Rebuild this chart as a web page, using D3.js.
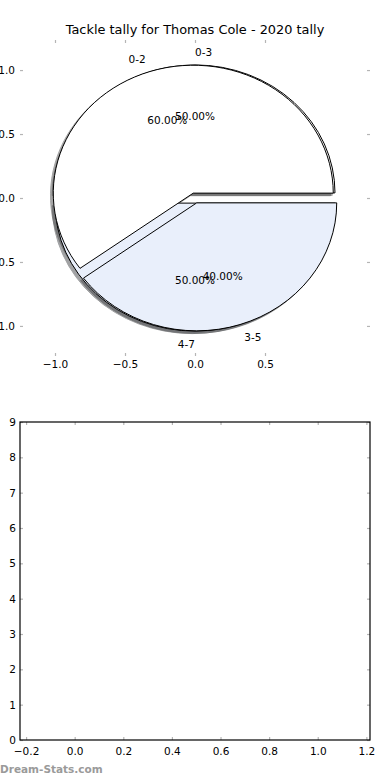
<!DOCTYPE html>
<html>
<head>
<meta charset="utf-8">
<script src="https://cdn.jsdelivr.net/npm/d3@7"></script>
<style>
  body { margin: 0; background: #fff; }
  text { font-family: "DejaVu Sans", sans-serif; }
</style>
</head>
<body>
<svg id="chart" width="390" height="780"></svg>
<script>
const title = 'Tackle tally for Thomas Cole - 2020 tally'
const pieALabels = ['0-3', '4-7']
const pieAValues = [1, 1]
const pieBLabels = ['0-2', '3-5']
const pieBValues = [3, 2]
const wedgeColors = ['#ffffff', '#e9effb']
const explode = 0.04
const pieXTicks = [-1, -0.5, 0, 0.5]
const pieYTicks = [-1, -0.5, 0, 0.5, 1]
const barXTicks = [-0.2, 0, 0.2, 0.4, 0.6, 0.8, 1.0, 1.2]
const barYTicks = [0, 1, 2, 3, 4, 5, 6, 7, 8, 9]

const tickColor = '#b5b5b5'
const fontSize = 10.5

const svg = d3.select('#chart')

// ---- top axes (pie) ----
const pieBox = { left: 20, right: 370, top: 40, bottom: 356 }
const x = d3.scaleLinear().domain([-1.25, 1.25]).range([pieBox.left, pieBox.right])
const y = d3.scaleLinear().domain([-1.235, 1.235]).range([pieBox.bottom, pieBox.top])
const sx = x(1) - x(0)
const sy = y(0) - y(1)

svg.append('text')
  .attr('x', (pieBox.left + pieBox.right) / 2)
  .attr('y', 34)
  .attr('text-anchor', 'middle')
  .attr('font-size', 12.9)
  .text(title)

// matplotlib style: start at 3 o'clock, counterclockwise
const pie = d3.pie().sort(null)
  .startAngle(Math.PI / 2)
  .endAngle(Math.PI / 2 - 2 * Math.PI)
const arc = d3.arc().innerRadius(0).outerRadius(1)

function wedges (values, labels) {
  const total = d3.sum(values)
  return pie(values).map((d, i) => {
    const theta = Math.PI / 2 - (d.startAngle + d.endAngle) / 2
    return {
      ...d,
      i,
      label: labels[i],
      pct: (values[i] / total * 100).toFixed(2) + '%',
      theta,
      cx: explode * Math.cos(theta),
      cy: explode * Math.sin(theta)
    }
  })
}

const pieA = wedges(pieAValues, pieALabels)
const pieB = wedges(pieBValues, pieBLabels)
const all = pieA.concat(pieB)

function shade (c) {
  const rgb = d3.rgb(c)
  return d3.rgb(rgb.r * 0.3, rgb.g * 0.3, rgb.b * 0.3).toString()
}

// shadows sit under every wedge
svg.append('g')
  .selectAll('path')
  .data(all)
  .join('path')
  .attr('transform', d => `translate(${x(d.cx - 0.02)},${y(d.cy - 0.02)}) scale(${sx},${sy})`)
  .attr('d', arc)
  .attr('fill', d => shade(wedgeColors[d.i]))
  .attr('stroke', d => shade(wedgeColors[d.i]))
  .attr('stroke-width', 1)
  .attr('vector-effect', 'non-scaling-stroke')
  .attr('opacity', 0.5)

svg.append('g')
  .selectAll('path')
  .data(all)
  .join('path')
  .attr('transform', d => `translate(${x(d.cx)},${y(d.cy)}) scale(${sx},${sy})`)
  .attr('d', arc)
  .attr('fill', d => wedgeColors[d.i])
  .attr('stroke', '#000')
  .attr('stroke-width', 1)
  .attr('stroke-linejoin', 'miter')
  .attr('vector-effect', 'non-scaling-stroke')

// wedge labels and percentages
const texts = svg.append('g').attr('font-size', fontSize)
all.forEach(d => {
  const c = Math.cos(d.theta)
  const s = Math.sin(d.theta)
  texts.append('text')
    .attr('x', x(d.cx + 1.1 * c))
    .attr('y', y(d.cy + 1.1 * s))
    .attr('text-anchor', c > 0 ? 'start' : 'end')
    .attr('dominant-baseline', 'central')
    .text(d.label)
  texts.append('text')
    .attr('x', x(d.cx + 0.6 * c))
    .attr('y', y(d.cy + 0.6 * s))
    .attr('text-anchor', 'middle')
    .attr('dominant-baseline', 'central')
    .text(d.pct)
})

function styleAxis (g) {
  g.select('.domain').remove()
  g.attr('font-family', null).attr('font-size', fontSize)
  g.selectAll('line').attr('stroke', tickColor).attr('stroke-width', 1.2)
  g.selectAll('text').attr('fill', '#000')
}

const fmt1 = d3.format('.1f')

svg.append('g')
  .attr('transform', `translate(0,${pieBox.bottom})`)
  .call(d3.axisBottom(x).tickValues(pieXTicks).tickFormat(fmt1).tickSize(-3).tickPadding(5))
  .call(styleAxis)
svg.append('g')
  .attr('transform', `translate(0,${pieBox.top})`)
  .call(d3.axisTop(x).tickValues(pieXTicks).tickFormat('').tickSize(-3))
  .call(styleAxis)
svg.append('g')
  .attr('transform', `translate(${pieBox.left},0)`)
  .call(d3.axisLeft(y).tickValues(pieYTicks).tickFormat(fmt1).tickSize(-3).tickPadding(5))
  .call(styleAxis)
svg.append('g')
  .attr('transform', `translate(${pieBox.right},0)`)
  .call(d3.axisRight(y).tickValues(pieYTicks).tickFormat('').tickSize(-3))
  .call(styleAxis)

// ---- bottom axes (empty) ----
const barBox = { left: 20, right: 370, top: 422, bottom: 740 }
const bx = d3.scaleLinear().domain([-0.225, 1.215]).range([barBox.left, barBox.right])
const by = d3.scaleLinear().domain([0, 9]).range([barBox.bottom, barBox.top])

svg.append('g')
  .attr('transform', `translate(0,${barBox.bottom})`)
  .call(d3.axisBottom(bx).tickValues(barXTicks).tickFormat(fmt1).tickSize(-3).tickPadding(8))
  .call(styleAxis)
svg.append('g')
  .attr('transform', `translate(0,${barBox.top})`)
  .call(d3.axisTop(bx).tickValues(barXTicks).tickFormat('').tickSize(-3))
  .call(styleAxis)
svg.append('g')
  .attr('transform', `translate(${barBox.left},0)`)
  .call(d3.axisLeft(by).tickValues(barYTicks).tickFormat(d3.format('d')).tickSize(-3).tickPadding(4))
  .call(styleAxis)
svg.append('g')
  .attr('transform', `translate(${barBox.right},0)`)
  .call(d3.axisRight(by).tickValues(barYTicks).tickFormat('').tickSize(-3))
  .call(styleAxis)

svg.append('rect')
  .attr('x', barBox.left)
  .attr('y', barBox.top)
  .attr('width', barBox.right - barBox.left)
  .attr('height', barBox.bottom - barBox.top)
  .attr('fill', 'none')
  .attr('stroke', '#000')
  .attr('stroke-width', 1.2)

// watermark
svg.append('text')
  .attr('x', 0)
  .attr('y', 773)
  .attr('font-size', 10.5)
  .attr('font-weight', 'bold')
  .attr('fill', '#9a9a9a')
  .text('Dream-Stats.com')
</script>
</body>
</html>
